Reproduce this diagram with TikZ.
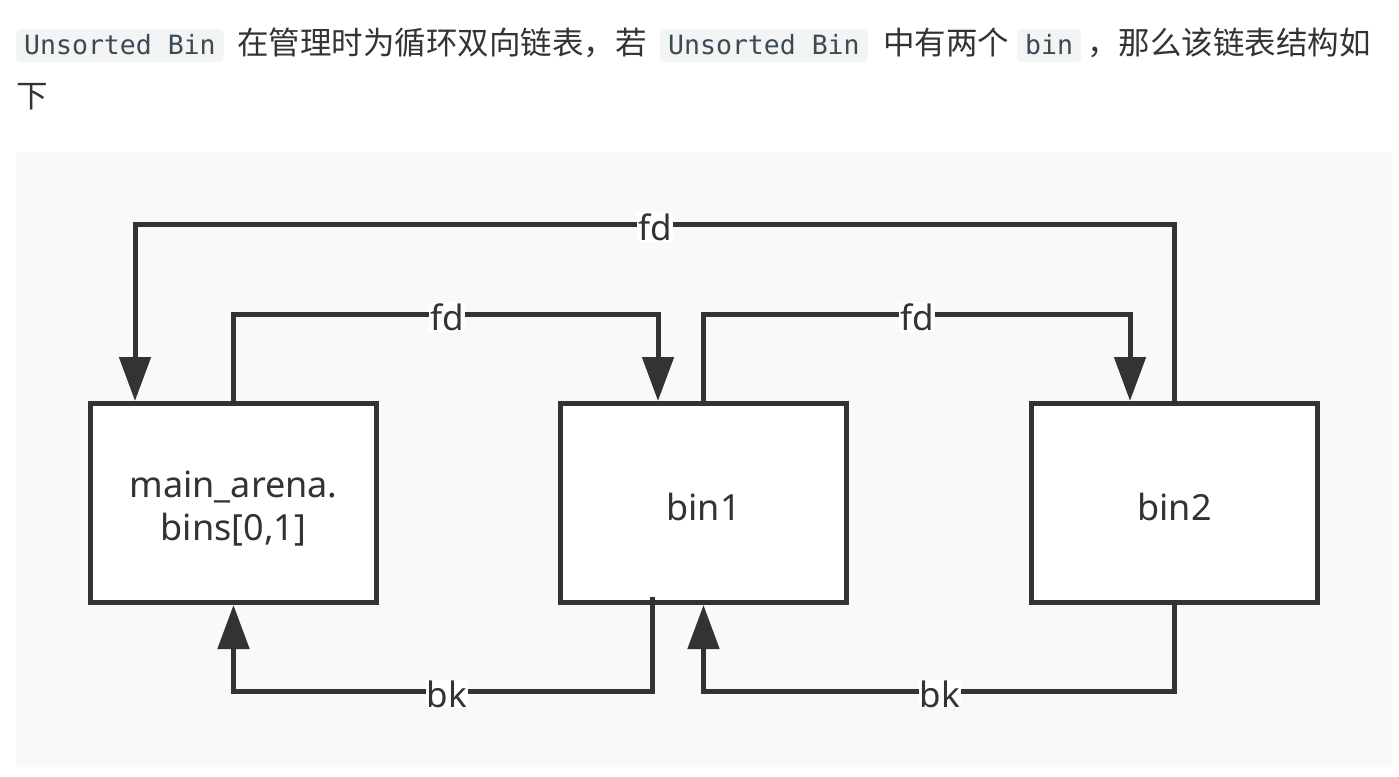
\documentclass[tikz,border=0pt]{standalone}
\usepackage{fontspec}
\setmainfont{Noto Sans}
\newfontfamily\cjk{Noto Sans CJK SC}
\newfontfamily\codefont{DejaVu Sans Mono}
\usetikzlibrary{arrows.meta}
\definecolor{ink}{HTML}{333333}
\definecolor{panel}{HTML}{F9F9F9}
\definecolor{codebg}{HTML}{F3F4F4}
\definecolor{codeink}{HTML}{3B4A54}
\begin{document}
\begin{tikzpicture}[x=1pt,y=-1pt,
  binbox/.style={draw=ink, fill=white, line width=5pt, minimum width=286pt, minimum height=199pt, inner sep=0pt},
  boxtext/.style={text=ink, inner sep=0pt, font=\fontsize{36}{43}\selectfont, align=center},
  link/.style={draw=ink, line width=5pt},
  arr/.style={-{Triangle[length=44pt,width=31pt]}},
  lbl/.style={fill=white, text=ink, inner sep=1pt, yshift=-3pt, font=\fontsize{35}{40}\selectfont},
  code/.style={fill=codebg, rounded corners=4pt, text=codeink, anchor=base west, inner xsep=8pt, inner ysep=0pt, text height=26pt, text depth=7pt, font=\codefont\fontsize{26.5}{30}\selectfont},
  cjktext/.style={anchor=base west, inner sep=0pt, text=ink, font=\cjk\fontsize{31.5}{36}\selectfont}
]
\useasboundingbox (0,0) rectangle (1399,776);
\fill[white] (0,0) rectangle (1399,776);
\fill[panel] (16,152) rectangle (1392,767);

% header text
\node[code] (c1) at (16,55) {Unsorted Bin};
\node[cjktext] (t1) at (237,55) {在管理时为循环双向链表，若};
\node[code] (c2) at (660,55) {Unsorted Bin};
\node[cjktext] (t2) at (883,55) {中有两个};
\node[code] (c3) at (1017,55) {bin};
\node[cjktext] (t3) at (1087,55) {，那么该链表结构如};
\node[cjktext] (t4) at (16,107) {下};

% boxes
\node[binbox] (b0) at (233.5,503) {};
\node[binbox] (b1) at (703.5,503) {};
\node[binbox] (b2) at (1174.5,503) {};
\node[boxtext] (n0) at ([yshift=-6pt]b0.center) {main\_arena.\\bins[0,1]};
\node[boxtext] (n1) at ([yshift=-4pt]b1.center) {bin1};
\node[boxtext] (n2) at ([yshift=-4pt]b2.center) {bin2};

% coordinates for connector ends
\coordinate (p0) at ([xshift=-98.5pt]b0.north);
\coordinate (p1) at ([xshift=-45.5pt]b1.north);
\coordinate (p2) at ([xshift=-44.5pt]b2.north);
\coordinate (q1) at ([xshift=-51.5pt,yshift=8pt]b1.south);

% fd top long
\draw[link,arr] (b2.north) |- (655,224) node[lbl] (lfd0) {fd} -| (p0);
% fd b0 -> b1
\draw[link,arr] (b0.north) |- (447,314) node[lbl] (lfd1) {fd} -| (p1);
% fd b1 -> b2
\draw[link,arr] (b1.north) |- (917,314) node[lbl] (lfd2) {fd} -| (p2);
% bk b1 -> b0
\draw[link,arr] (q1) |- (447,691) node[lbl] (lbk1) {bk} -| (b0.south);
% bk b2 -> b1
\draw[link,arr] (b2.south) |- (940,691) node[lbl] (lbk2) {bk} -| (b1.south);
\end{tikzpicture}
\end{document}
